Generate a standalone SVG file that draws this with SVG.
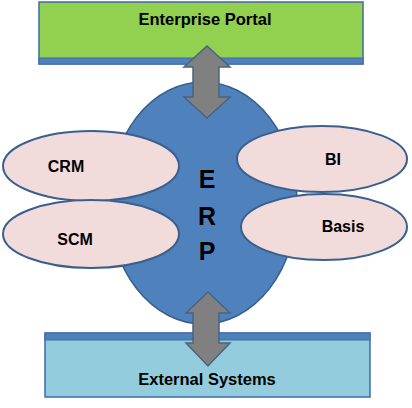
<svg xmlns="http://www.w3.org/2000/svg" width="412" height="408" viewBox="0 0 412 408">
<style>
text{font-family:"Liberation Sans",Arial,sans-serif;font-weight:bold;fill:#000;text-anchor:middle}
.mod{fill:#f2dcdb;stroke:#3a5f8f;stroke-width:2}
.arr{fill:#808080;stroke:#4a6381;stroke-width:1.5}
.lbl{font-size:16px}
</style>
<rect width="412" height="408" fill="#fff"/>
<g id="enterprise-portal">
<rect x="39" y="2" width="324" height="62" fill="#92d050" stroke="#3f6aa8" stroke-width="1.5"/>
<rect x="39" y="58" width="324" height="6" fill="#4f81bd" stroke="#3f6aa8" stroke-width="1"/>
<text x="205" y="25" font-size="16.5">Enterprise Portal</text>
</g>
<g id="external-systems">
<rect x="45" y="333" width="325" height="64" fill="#93cddd" stroke="#3f6aa8" stroke-width="1.5"/>
<rect x="45" y="333" width="325" height="7" fill="#4f81bd" stroke="#3f6aa8" stroke-width="1"/>
<text x="207" y="385" font-size="16.5">External Systems</text>
</g>
<g id="erp">
<ellipse cx="203" cy="203" rx="94" ry="121" fill="#4f81bd" stroke="#3a5f8f" stroke-width="1.5"/>
<text x="207" y="188" font-size="25">E</text>
<text x="207" y="225" font-size="25">R</text>
<text x="207" y="260" font-size="25">P</text>
</g>
<g id="crm">
<ellipse class="mod" cx="91" cy="166" rx="88" ry="35"/>
<text class="lbl" x="66" y="172">CRM</text>
</g>
<g id="scm">
<ellipse class="mod" cx="91" cy="234" rx="88" ry="34"/>
<text class="lbl" x="75" y="245">SCM</text>
</g>
<g id="bi">
<ellipse class="mod" cx="322" cy="159" rx="85" ry="33"/>
<text class="lbl" x="333" y="165">BI</text>
</g>
<g id="basis">
<ellipse class="mod" cx="324" cy="227" rx="83" ry="33"/>
<text class="lbl" x="343" y="232">Basis</text>
</g>
<g id="connectors">
<polygon class="arr" points="207,46 230,67 219,67 219,97 230,97 207,118 184,97 193,97 193,67 184,67"/>
<polygon class="arr" points="208,292 230,313 219,313 219,343 230,343 208,366 186,343 193,343 193,313 186,313"/>
</g>
</svg>
